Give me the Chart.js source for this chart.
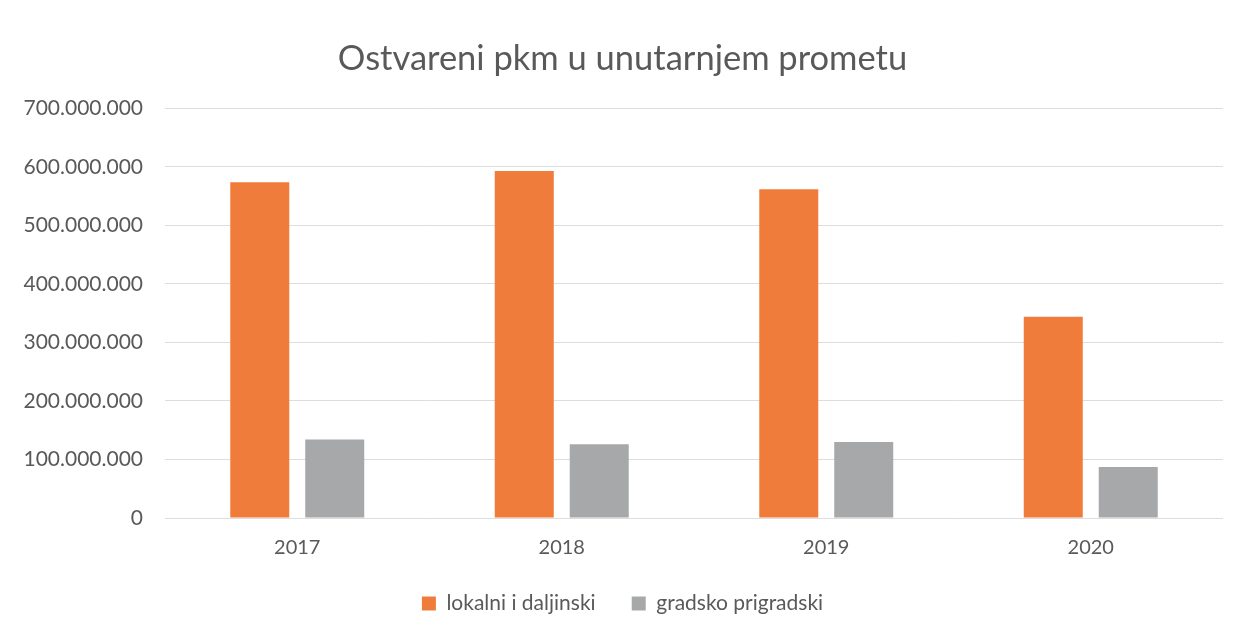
<!DOCTYPE html>
<html>
<head>
<meta charset="utf-8">
<script src="https://cdn.jsdelivr.net/npm/chart.js@4/dist/chart.umd.min.js"></script>
<style>
  html, body { margin: 0; padding: 0; background: #fff; }
  #wrap { width: 1245px; height: 635px; }
</style>
</head>
<body>
<div id="wrap"><canvas id="pkm" width="1245" height="635"></canvas></div>
<script>
// podaci
const years = ['2017', '2018', '2019', '2020'];
const lokalniDaljinski = [574000000, 593000000, 562000000, 344000000];
const gradskoPrigradski = [134000000, 126000000, 130000000, 87000000];
const yTicks = [0, 100000000, 200000000, 300000000, 400000000, 500000000, 600000000, 700000000];

function fmt(v) {
  return String(v).replace(/\B(?=(\d{3})+(?!\d))/g, '.');
}

const grey = '#595959';
Chart.defaults.font.family = 'Lato, "Open Sans", sans-serif';
Chart.defaults.color = grey;

new Chart(document.getElementById('pkm').getContext('2d'), {
  type: 'bar',
  data: {
    labels: years,
    datasets: [
      { label: 'lokalni i daljinski', data: lokalniDaljinski, backgroundColor: '#F07C3C' },
      { label: 'gradsko prigradski', data: gradskoPrigradski, backgroundColor: '#A7A8A9' }
    ]
  },
  options: {
    responsive: false,
    animation: false,
    layout: { padding: { left: 22, right: 22, top: 38, bottom: 11 } },
    datasets: { bar: { categoryPercentage: 0.567, barPercentage: 0.787 } },
    plugins: {
      title: {
        display: true,
        text: 'Ostvareni pkm u unutarnjem prometu',
        font: { size: 34.5, weight: 'normal' },
        color: grey,
        padding: { top: 0, bottom: 29 }
      },
      legend: {
        position: 'bottom',
        labels: {
          boxWidth: 14, boxHeight: 14, padding: 23, font: { size: 21 }, color: grey,
          // a bit more room between the two entries, like the original
          generateLabels: ch => Chart.defaults.plugins.legend.labels.generateLabels(ch)
            .map((l, i) => (i === 0 ? Object.assign(l, { text: l.text + '\u2002\u2009' }) : l))
        }
      },
      tooltip: { enabled: false }
    },
    scales: {
      x: {
        grid: { display: false },
        border: { display: false },
        ticks: { font: { size: 20 }, color: grey, padding: 10 }
      },
      y: {
        min: 0,
        max: 700000000,
        afterBuildTicks: s => { s.ticks = yTicks.map(v => ({ value: v })); },
        afterFit: s => { s.width = 143; },
        grid: { color: '#DDDDDD', drawTicks: false },
        border: { display: false },
        ticks: { font: { size: 21 }, color: grey, padding: 22, callback: v => fmt(v) }
      }
    }
  }
});
</script>
</body>
</html>
